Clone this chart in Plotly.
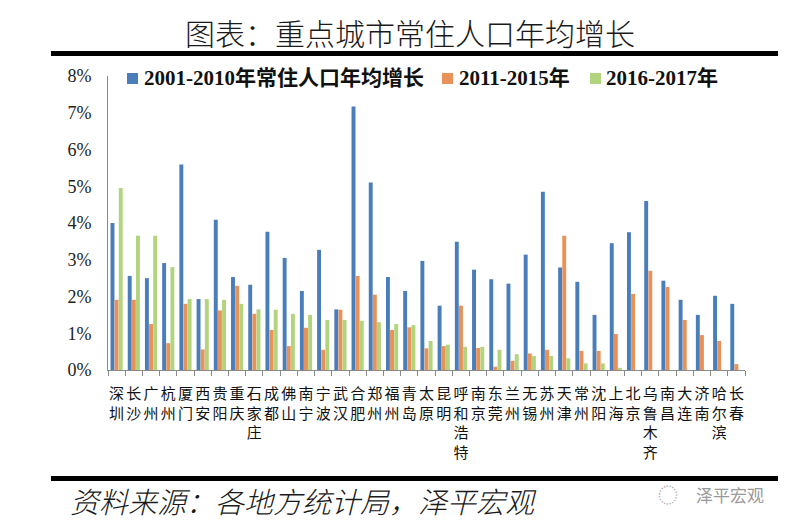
import plotly.graph_objects as go

cities = ["深圳","长沙","广州","杭州","厦门","西安","贵阳","重庆","石家庄","成都","佛山","南宁","宁波",
          "武汉","合肥","郑州","福州","青岛","太原","昆明","呼和浩特","南京","东莞","兰州","无锡","苏州",
          "天津","常州","沈阳","上海","北京","乌鲁木齐","南昌","大连","济南","哈尔滨","长春"]

g_2001_2010 = [4.0, 2.56, 2.5, 2.91, 5.59, 1.93, 4.09, 2.53, 2.32, 3.76, 3.05, 2.15, 3.27,
               1.65, 7.17, 5.1, 2.53, 2.15, 2.97, 1.75, 3.49, 2.73, 2.47, 2.35, 3.14, 4.85,
               2.79, 2.4, 1.5, 3.45, 3.75, 4.6, 2.43, 1.91, 1.5, 2.02, 1.8]
g_2011_2015 = [1.91, 1.91, 1.25, 0.73, 1.8, 0.56, 1.62, 2.29, 1.53, 1.09, 0.65, 1.15, 0.55,
               1.64, 2.56, 2.05, 1.09, 1.16, 0.59, 0.65, 1.75, 0.6, 0.09, 0.25, 0.45, 0.55,
               3.65, 0.52, 0.52, 0.98, 2.07, 2.7, 2.26, 1.36, 0.95, 0.79, 0.16]
g_2016_2017 = [4.95, 3.65, 3.65, 2.8, 1.93, 1.93, 1.91, 1.8, 1.65, 1.64, 1.53, 1.5, 1.36,
               1.36, 1.34, 1.3, 1.25, 1.22, 0.79, 0.69, 0.63, 0.63, 0.55, 0.43, 0.38, 0.38,
               0.32, 0.18, 0.18, 0.06, None, None, None, None, None, None, None]

series_names = ["2001-2010年常住人口年均增长", "2011-2015年", "2016-2017年"]
series_colors = ["#4A7EBB", "#E8925A", "#B3D47E"]
y_ticks = [0, 1, 2, 3, 4, 5, 6, 7, 8]

tick_text = ["<br>".join(list(c)) for c in cities]

W, H = 792, 529
L, R, T, B = 108, 47, 76, 159
PW, PH = W - L - R, H - T - B

def px(x):
    return (x - L) / PW

def py(y):
    return (H - B - y) / PH

serif = "Liberation Serif, Noto Sans CJK SC, serif"
cjk = "Noto Sans CJK SC, sans-serif"

fig = go.Figure()
for name, vals, col in zip(series_names, [g_2001_2010, g_2011_2015, g_2016_2017], series_colors):
    fig.add_trace(go.Bar(x=cities, y=vals, name=name, marker=dict(color=col, line=dict(width=0))))

fig.update_layout(
    width=W, height=H,
    margin=dict(l=L, r=R, t=T, b=B, autoexpand=False),
    paper_bgcolor="white", plot_bgcolor="white",
    barmode="group", bargap=0.28, bargroupgap=0.05,
    showlegend=False,
    xaxis=dict(tickmode="array", tickvals=cities, ticktext=tick_text,
               tickangle=0, tickfont=dict(family=cjk, size=15, color="#111"),
               showline=True, linecolor="#8a8a8a", linewidth=1,
               ticks="outside", tickson="boundaries", ticklen=5, tickcolor="#8a8a8a",
               ticklabelstandoff=10, showgrid=False, automargin=False),
    yaxis=dict(range=[0, 8], tickvals=y_ticks, ticktext=[f"{v}%" for v in y_ticks],
               tickfont=dict(family=serif, size=18, color="#222"),
               showline=True, linecolor="#8a8a8a", linewidth=1,
               ticks="", ticklabelstandoff=12,
               showgrid=False, zeroline=False, automargin=False),
)

shapes = [
    dict(type="line", xref="paper", yref="paper", x0=px(51), x1=px(778), y0=py(53.5), y1=py(53.5),
         line=dict(color="#000000", width=5), layer="above"),
    dict(type="line", xref="paper", yref="paper", x0=px(51), x1=px(778), y0=py(478.5), y1=py(478.5),
         line=dict(color="#000000", width=5), layer="above"),
]

# legend drawn manually
leg_sq = [(127, 138), (442, 453), (590, 601)]
leg_tx = [142, 457, 604]
for (a, b), tx, name, col in zip(leg_sq, leg_tx, series_names, series_colors):
    shapes.append(dict(type="rect", xref="paper", yref="paper", x0=px(a), x1=px(b),
                       y0=py(84), y1=py(73), fillcolor=col, line=dict(width=0)))
    fig.add_annotation(text=f"<b>{name}</b>", xref="paper", yref="paper",
                       x=px(tx), y=py(78.5), xanchor="left", yanchor="middle", showarrow=False,
                       font=dict(family=serif, size=21, color="#111"))
fig.update_layout(shapes=shapes)

fig.add_annotation(text="图表：重点城市常住人口年均增长", xref="paper", yref="paper",
                   x=px(410), y=py(32), xanchor="center", yanchor="middle", showarrow=False,
                   font=dict(family=cjk, size=30, color="#1a1a1a", weight=300))
fig.add_annotation(text="<i>资料来源：各地方统计局，泽平宏观</i>", xref="paper", yref="paper",
                   x=px(68), y=py(500), xanchor="left", yanchor="middle", showarrow=False,
                   font=dict(family=cjk, size=29, color="#1a1a1a", weight=300))
fig.add_annotation(text="泽平宏观", xref="paper", yref="paper",
                   x=px(766), y=py(494), xanchor="right", yanchor="middle", showarrow=False,
                   font=dict(family=cjk, size=17, color="#9a9a9a"))
fig.add_annotation(text="◌", xref="paper", yref="paper",
                   x=px(668), y=py(494), xanchor="center", yanchor="middle", showarrow=False,
                   font=dict(family=cjk, size=20, color="#b0b0b0"))

fig.write_html("out.html", config={"displayModeBar": False},
               post_script="document.body.style.margin='0';")
